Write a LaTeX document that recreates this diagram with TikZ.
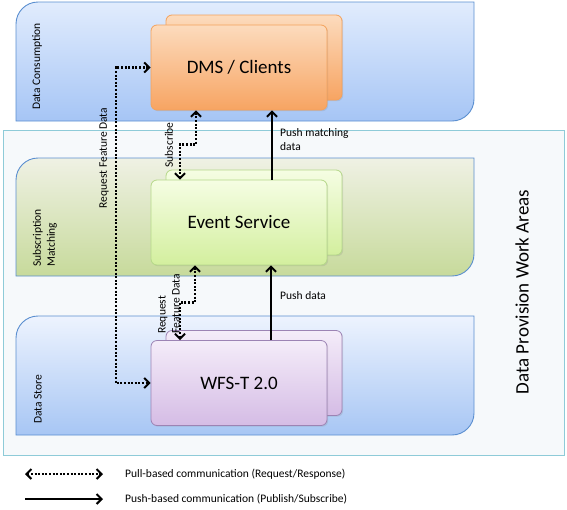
\documentclass[tikz,border=0pt]{standalone}
\usepackage{fontspec}
\setmainfont{Carlito}
\usetikzlibrary{arrows.meta,shadows}

\definecolor{areaEdge}{HTML}{5B8FD0}
\definecolor{consTop}{HTML}{E1ECFD}
\definecolor{consBot}{HTML}{A6C5F5}
\definecolor{matchTop}{HTML}{EFF1E4}
\definecolor{matchBot}{HTML}{C7DA9B}
\definecolor{storeTop}{HTML}{EDF3FE}
\definecolor{storeBot}{HTML}{A7C6F4}
\definecolor{provEdge}{HTML}{8ECBD8}
\definecolor{provFill}{HTML}{F6F9FB}
\definecolor{dmsEdge}{HTML}{F4A25C}
\definecolor{dmsTop}{HTML}{FCDBBD}
\definecolor{dmsBot}{HTML}{F7A462}
\definecolor{evEdge}{HTML}{B5D889}
\definecolor{evTop}{HTML}{F5FDE3}
\definecolor{evBot}{HTML}{D3EF9E}
\definecolor{wfsEdge}{HTML}{9C83B4}
\definecolor{wfsTop}{HTML}{F4ECF9}
\definecolor{wfsBot}{HTML}{D5BCE5}

\begin{document}
\begin{tikzpicture}[
    x = 1pt, y = -1pt,
    every node/.append style = {align = center, inner sep = 1pt},
    area/.style = {draw = areaEdge, line width = 0.9pt},
    svc/.style = {draw, rounded corners = 6pt, minimum width = 176pt, minimum height = 85pt,
        line width = 0.8pt, font = \fontsize{19}{23}\selectfont,
        drop shadow = {shadow xshift = 1.2pt, shadow yshift = -1.2pt, opacity = 0.2}},
    area lbl/.style = {rotate = 90, font = \fontsize{11.5}{14}\selectfont},
    msg lbl/.style = {font = \fontsize{11.5}{14}\selectfont, align = left},
    pull/.style = {<->, line width = 2.2pt, dash pattern = on 2pt off 1.6pt},
    push/.style = {->, line width = 2.2pt},
    >={Straight Barb[length = 5pt, width = 10pt, line width = 2pt]}
]
\useasboundingbox (0,0) rectangle (567,509);

\draw[draw = provEdge, fill = provFill, line width = 1pt] (3,130) rectangle (564,455);

\foreach \ya/\yb/\ct/\cb in {2/121/consTop/consBot, 158/276/matchTop/matchBot, 316/435/storeTop/storeBot}{
    \draw[area, top color = \ct, bottom color = \cb] (16,\yb) -- (16,\ya+22)
        arc[start angle = 180, end angle = 270, radius = 22] -- (474,\ya) -- (474,\yb-22)
        arc[start angle = 0, end angle = 90, radius = 22] -- cycle;
}

\foreach \n/\y/\txt in {dms/67.5/{DMS / Clients}, ev/222.5/{Event Service}, wfs/383/{WFS-T 2.0}}{
    \node[svc, draw = \n Edge, top color = \n Top, bottom color = \n Bot] (\n back) at (254,\y-10) {};
    \node[svc, draw = \n Edge, top color = \n Top, bottom color = \n Bot] (\n) at (239,\y) {\txt};
}

\draw[pull] (dms.west) -- ++(-35,0) |- (wfs.west);
\draw[pull] ([xshift = -43]dms.south) -- ++(0,34) -| ([xshift = -59]ev.north);
\draw[pull] ([xshift = -44]ev.south) -- ++(0,37) -| ([xshift = -59]wfs.north);
\draw[push] ([xshift = 33]ev.north) -- ([xshift = 33]dms.south);
\draw[push] ([xshift = 32]wfs.north) -- ([xshift = 32]ev.south);

\node[msg lbl, rotate = 90] (rfd) at (104,158) {Request Feature Data};
\node[msg lbl, rotate = 90] (sub) at (169,145) {Subscribe};
\node[msg lbl, anchor = north west] (pmd) at (279,127) {Push matching\\data};
\node[msg lbl, rotate = 90, anchor = south west] (rfdw) at (181,335) {Request\\Feature Data};
\node[msg lbl, anchor = west] (pd) at (279,296) {Push data};

\node[area lbl, anchor = west] (cons) at (37,111) {Data Consumption};
\node[area lbl, anchor = south west, align = left] (match) at (58,268) {Subscription\\Matching};
\node[area lbl, anchor = west] (store) at (38,425) {Data Store};
\node[rotate = 90, font = \fontsize{19}{23}\selectfont] (prov) at (522,292) {Data Provision Work Areas};

% legend
\coordinate (pullA) at (25,474);
\coordinate (pullB) at (103,474);
\coordinate (pushA) at (25,499);
\coordinate (pushB) at (103,499);
\draw[pull] (pullA) -- (pullB);
\draw[push] (pushA) -- (pushB);
\node[msg lbl, anchor = west] (pullL) at (124,474) {Pull-based communication (Request/Response)};
\node[msg lbl, anchor = west] (pushL) at (124,499) {Push-based communication (Publish/Subscribe)};

\end{tikzpicture}
\end{document}
